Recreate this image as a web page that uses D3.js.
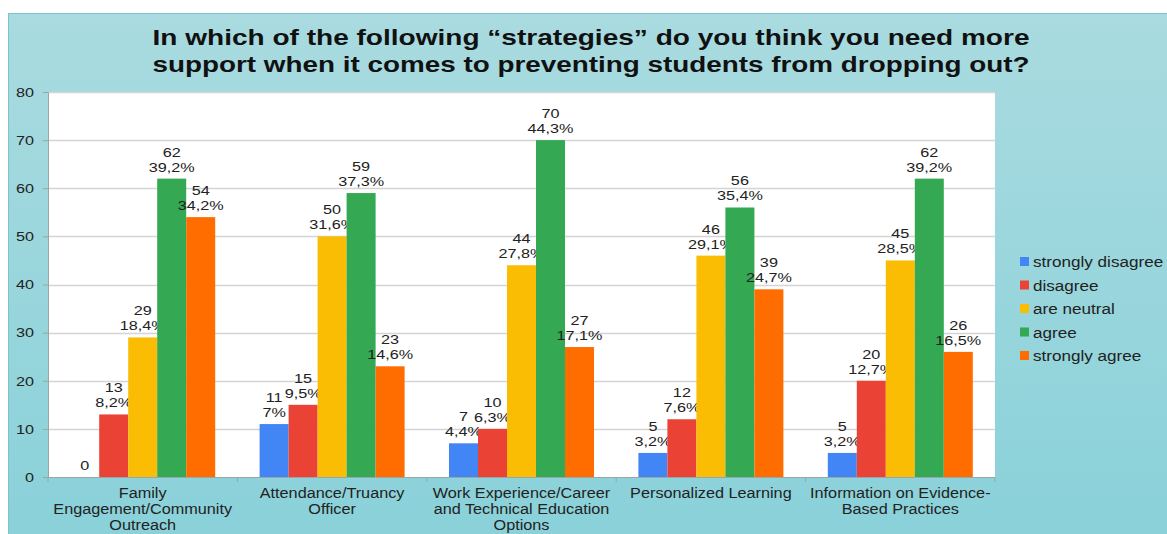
<!DOCTYPE html>
<html>
<head>
<meta charset="utf-8">
<script src="https://cdn.jsdelivr.net/npm/d3@7"></script>
<style>
  html, body { margin: 0; padding: 0; background: #ffffff; }
  svg { display: block; font-family: "Liberation Sans", Arial, sans-serif; }
</style>
</head>
<body>
<svg id="chart" width="1167" height="534"></svg>
<script>
// Survey: which strategies need more support to prevent dropouts
const categories = [
  ["Family", "Engagement/Community", "Outreach"],
  ["Attendance/Truancy", "Officer"],
  ["Work Experience/Career", "and Technical Education", "Options"],
  ["Personalized Learning"],
  ["Information on Evidence-", "Based Practices"]
];
const seriesNames = ["strongly disagree", "disagree", "are neutral", "agree", "strongly agree"];
const seriesColors = ["#4285f4", "#ea4335", "#fbbc04", "#34a853", "#ff6d01"];

// counts per category, one array per series
const stronglyDisagree = [0, 11, 7, 5, 5];
const disagree        = [13, 15, 10, 12, 20];
const neutral         = [29, 50, 44, 46, 45];
const agree           = [62, 59, 70, 56, 62];
const stronglyAgree   = [54, 23, 27, 39, 26];

const stronglyDisagreePct = ["", "7%", "4,4%", "3,2%", "3,2%"];
const disagreePct        = ["8,2%", "9,5%", "6,3%", "7,6%", "12,7%"];
const neutralPct         = ["18,4%", "31,6%", "27,8%", "29,1%", "28,5%"];
const agreePct           = ["39,2%", "37,3%", "44,3%", "35,4%", "39,2%"];
const stronglyAgreePct   = ["34,2%", "14,6%", "17,1%", "24,7%", "16,5%"];

const yTicks = [0, 10, 20, 30, 40, 50, 60, 70, 80];

const seriesValues = [stronglyDisagree, disagree, neutral, agree, stronglyAgree];
const seriesPcts = [stronglyDisagreePct, disagreePct, neutralPct, agreePct, stronglyAgreePct];

const svg = d3.select("#chart");
const W = 1167, H = 534;
const WIDE = 1.2; // horizontal stretch applied to the small labels

// stretch a text element horizontally around its anchor x
function widen(sel, ax, k = WIDE) {
  sel.attr("transform", `translate(${ax},0) scale(${k},1) translate(${-ax},0)`);
}

// panel background gradient
const defs = svg.append("defs");
const grad = defs.append("linearGradient").attr("id", "bg").attr("x1", 0).attr("y1", 0).attr("x2", 0).attr("y2", 1);
grad.append("stop").attr("offset", "0%").attr("stop-color", "#a9dbe0");
grad.append("stop").attr("offset", "100%").attr("stop-color", "#8ad1d9");

svg.append("rect").attr("x", 8.5).attr("y", 13.5).attr("width", W - 8).attr("height", H - 13)
  .attr("fill", "url(#bg)").attr("stroke", "#7ec3cc").attr("stroke-width", 1);

// title
const titleLines = [
  "In which of the following \u201Cstrategies\u201D do you think you need more",
  "support when it comes to preventing students from dropping out?"
];
svg.append("g").selectAll("text").data(titleLines).join("text")
  .attr("x", 591).attr("y", (d, i) => 45 + i * 27)
  .attr("text-anchor", "middle").attr("font-weight", "bold").attr("font-size", 22.5).attr("fill", "#111")
  .attr("textLength", 877).attr("lengthAdjust", "spacingAndGlyphs")
  .text(d => d);

const plot = { left: 48, right: 995, top: 92, bottom: 477 };

svg.append("rect").attr("x", plot.left).attr("y", plot.top)
  .attr("width", plot.right - plot.left).attr("height", plot.bottom - plot.top).attr("fill", "#ffffff");

const y = d3.scaleLinear().domain([0, 80]).range([plot.bottom, plot.top]);
const x0 = d3.scaleBand().domain(d3.range(categories.length)).range([plot.left, plot.right]).padding(0);
const barW = 29;
const groupPad = (x0.bandwidth() - barW * seriesNames.length) / 2;
const x1 = d3.scaleBand().domain(d3.range(seriesNames.length))
  .range([groupPad, x0.bandwidth() - groupPad]).padding(0);

// gridlines
svg.append("g").selectAll("line").data(yTicks.filter(t => t > 0)).join("line")
  .attr("x1", plot.left).attr("x2", plot.right)
  .attr("y1", d => Math.round(y(d)) + 0.5).attr("y2", d => Math.round(y(d)) + 0.5)
  .attr("stroke", "#d4d4d4").attr("stroke-width", 1.5);

// y axis
const yAxis = svg.append("g").attr("transform", `translate(${plot.left},0)`)
  .call(d3.axisLeft(y).tickValues(yTicks).tickSize(5).tickPadding(9));
yAxis.select(".domain").attr("stroke", "#9aa5a8");
yAxis.selectAll(".tick line").attr("stroke", "#9aa5a8");
yAxis.selectAll(".tick text").attr("font-size", 13.5).attr("fill", "#222")
  .attr("font-family", "Liberation Sans, Arial, sans-serif")
  .each(function () { widen(d3.select(this), -14); });

// x axis
const xAxisG = svg.append("g").attr("transform", `translate(0,${plot.bottom})`);
xAxisG.append("line").attr("x1", plot.left - 5).attr("x2", plot.right).attr("y1", 0.5).attr("y2", 0.5)
  .attr("stroke", "#9aa5a8");
const boundaries = d3.range(categories.length + 1).map(i => plot.left + i * x0.bandwidth());
xAxisG.selectAll("line.tk").data(boundaries).join("line").attr("class", "tk")
  .attr("x1", d => d).attr("x2", d => d).attr("y1", 0).attr("y2", 5).attr("stroke", "#9aa5a8");

const catLabels = svg.append("g");
categories.forEach((lines, i) => {
  const cx = x0(i) + x0.bandwidth() / 2;
  const t = catLabels.append("text").attr("text-anchor", "middle").attr("font-size", 14).attr("fill", "#222");
  lines.forEach((ln, j) => t.append("tspan").attr("x", cx).attr("y", 498 + j * 16).text(ln));
  widen(t, cx, 1.16);
});

// bars
const bars = svg.append("g");
seriesNames.forEach((name, s) => {
  const g = bars.append("g");
  g.selectAll("rect").data(seriesValues[s]).join("rect")
    .attr("x", (d, i) => x0(i) + x1(s))
    .attr("y", d => y(d))
    .attr("width", x1.bandwidth())
    .attr("height", d => y(0) - y(d))
    .attr("fill", seriesColors[s]);

  const lbl = g.selectAll("text").data(seriesValues[s]).join("text")
    .attr("text-anchor", "middle").attr("font-size", 13.5).attr("fill", "#222");
  lbl.each(function (d, i) {
    const cx = x0(i) + x1(s) + x1.bandwidth() / 2;
    const t = d3.select(this);
    const pct = seriesPcts[s][i];
    if (pct) {
      t.append("tspan").attr("x", cx).attr("y", y(d) - 22).text(d);
      t.append("tspan").attr("x", cx).attr("y", y(d) - 7).text(pct);
    } else {
      t.append("tspan").attr("x", cx).attr("y", y(d) - 7).text(d);
    }
    widen(t, cx);
  });
});

// legend
const legend = svg.append("g").attr("transform", "translate(1020,257)");
seriesNames.forEach((name, s) => {
  const row = legend.append("g").attr("transform", `translate(0,${s * 23.5})`);
  row.append("rect").attr("x", 0).attr("y", 0).attr("width", 9).attr("height", 9).attr("fill", seriesColors[s]);
  const t = row.append("text").attr("x", 13).attr("y", 10).attr("font-size", 14.5).attr("fill", "#222").text(name);
  widen(t, 13, 1.18);
});
</script>
</body>
</html>
